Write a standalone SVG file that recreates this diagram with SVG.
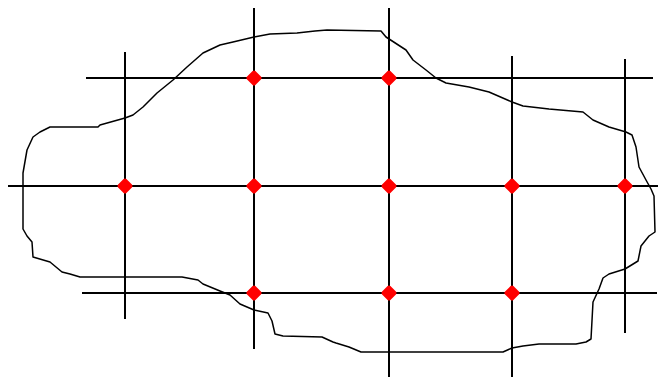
<svg xmlns="http://www.w3.org/2000/svg" width="672" height="378" viewBox="0 0 672 378">
<style>
.grid{stroke:#000;stroke-width:2;fill:none}
.blob{stroke:#000;stroke-width:1.5;fill:none;stroke-linejoin:round}
.pt{fill:#ff0000;stroke:#ff0000;stroke-width:4;stroke-linejoin:round}
</style>
<defs>
<path id="dot" d="M0,-5.5 L5.5,0 L0,5.5 L-5.5,0 Z"/>
</defs>
<rect width="672" height="378" fill="#fff"/>
<g id="outline">
<path class="blob" d="M23,189 L23,173 L27,150 L33,137 L40,132 L50,127 L98,127 L100,125 L125,118 L133,115 L143,107 L157,93 L173,80 L187,67 L203,53 L220,45 L233,42 L254,37 L270,34 L297,33 L315,31 L327,30 L381,31 L386,37 L406,50 L413,60 L426,70 L436,78 L446,83 L469,87 L489,92 L512,102 L523,106 L549,109 L583,112 L593,120 L609,127 L626,132 L632,135 L636,147 L639,167 L646,180 L651,189 L654,196 L655,232 L649,236 L641,246 L638,261 L625,269 L609,274 L603,278 L599,289 L593,302 L591,339 L586,342 L576,344 L539,344 L523,346 L512,348 L503,352 L496,352 L361,352 L349,347 L336,343 L333,342 L322,337 L283,336 L275,334 L272,321 L268,313 L254,310 L240,304 L230,295 L220,291 L203,284 L198,280 L182,277 L80,277 L70,274 L62,272 L50,262 L33,257 L32,242 L27,236 L23,229 Z"/>
</g>
<g id="connectors">
<line class="grid" x1="86" y1="78" x2="653" y2="78"/>
<line class="grid" x1="8" y1="186" x2="658" y2="186"/>
<line class="grid" x1="82" y1="293" x2="657" y2="293"/>
<line class="grid" x1="125" y1="52" x2="125" y2="319"/>
<line class="grid" x1="254" y1="8" x2="254" y2="349"/>
<line class="grid" x1="389" y1="8" x2="389" y2="377"/>
<line class="grid" x1="512" y1="56" x2="512" y2="377"/>
<line class="grid" x1="625" y1="59" x2="625" y2="333"/>
</g>
<g id="p1"><use href="#dot" class="pt" x="254" y="78"/></g>
<g id="p2"><use href="#dot" class="pt" x="389" y="78"/></g>
<g id="p3"><use href="#dot" class="pt" x="125" y="186"/></g>
<g id="p4"><use href="#dot" class="pt" x="254" y="186"/></g>
<g id="p5"><use href="#dot" class="pt" x="389" y="186"/></g>
<g id="p6"><use href="#dot" class="pt" x="512" y="186"/></g>
<g id="p7"><use href="#dot" class="pt" x="625" y="186"/></g>
<g id="p8"><use href="#dot" class="pt" x="254" y="293"/></g>
<g id="p9"><use href="#dot" class="pt" x="389" y="293"/></g>
<g id="p10"><use href="#dot" class="pt" x="512" y="293"/></g>
</svg>
